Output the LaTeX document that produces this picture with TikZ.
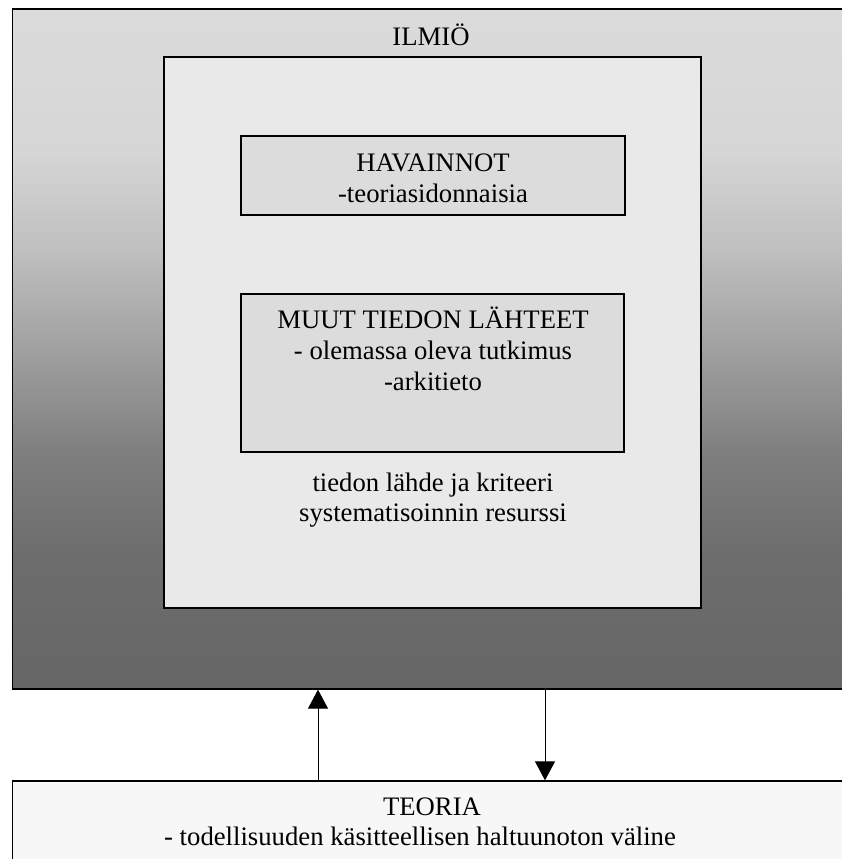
\documentclass[tikz,border=0pt]{standalone}
\usepackage{fontspec}
\setmainfont{Liberation Serif}
\usetikzlibrary{arrows.meta}

% vertical grey ramp for the phenomenon box (25bp = bottom edge, 75bp = top edge)
\definecolor{g0}{gray}{0.40}
\definecolor{g1}{gray}{0.43}
\definecolor{g2}{gray}{0.50}
\definecolor{g3}{gray}{0.63}
\definecolor{g4}{gray}{0.75}
\definecolor{g5}{gray}{0.84}
\definecolor{g6}{gray}{0.86}
\pgfdeclareverticalshading{ilmioramp}{100bp}{%
  color(0bp)=(g0); color(25bp)=(g0); color(35.3bp)=(g1); color(42.6bp)=(g2);
  color(50bp)=(g3); color(57.3bp)=(g4); color(64.6bp)=(g5); color(75bp)=(g6);
  color(100bp)=(g6)}

\definecolor{innerfill}{HTML}{E9E9E9}
\definecolor{boxfill}{HTML}{DCDCDC}
\definecolor{theoryfill}{HTML}{F7F7F7}

\tikzset{
  frame/.style={draw=black, line width=1.3pt, rectangle, inner sep=0pt},
  txt/.style={anchor=base, inner sep=0pt, font=\fontsize{26.7}{31}\selectfont},
  arr/.style={line width=1pt, -{Triangle[width=20pt,length=19pt]}},
}

\begin{document}
\begin{tikzpicture}[x=1pt, y=-1pt]
  \useasboundingbox (0,0) rectangle (841,859);
  \fill[white] (0,0) rectangle (841,859);

  % outer phenomenon frame (runs past the right edge)
  \node[frame, shading=ilmioramp, minimum width=834pt, minimum height=680pt]
    (ilmio) at (429.5,349) {};
  \node[txt] (ilmiotxt) at (431,46) {ILMIÖ};

  % inner area
  \node[frame, fill=innerfill, minimum width=537pt, minimum height=551pt]
    (inner) at (432.5,332.5) {};

  % observations
  \node[frame, fill=boxfill, minimum width=384pt, minimum height=79pt]
    (havainnot) at (433,175.5) {};
  \node[txt] (havt1) at (433,171) {HAVAINNOT};
  \node[txt] (havt2) at (433,202) {-teoriasidonnaisia};

  % other sources of knowledge
  \node[frame, fill=boxfill, minimum width=383pt, minimum height=158pt]
    (muut) at (432.5,373) {};
  \node[txt] (muut1) at (433,328) {MUUT TIEDON LÄHTEET};
  \node[txt] (muut2) at (433,359) {- olemassa oleva tutkimus};
  \node[txt] (muut3) at (433,390) {-arkitieto};

  \node[txt] (res1) at (433,491) {tiedon lähde ja kriteeri};
  \node[txt] (res2) at (433,521) {systematisoinnin resurssi};

  % theory box (runs past the right and bottom edges)
  \node[frame, fill=theoryfill, minimum width=834pt, minimum height=100pt]
    (teoria) at (429.5,831) {};
  \node[txt] (teo1) at (432,815) {TEORIA};
  \node[txt] (teo2) at (420,845) {- todellisuuden käsitteellisen haltuunoton väline};

  % connectors between theory and phenomenon
  \coordinate (upx) at (318,0);
  \coordinate (downx) at (545,0);
  \draw[arr] (upx |- teoria.north) -- (upx |- ilmio.south);
  \draw[arr] (downx |- ilmio.south) -- (downx |- teoria.north);
\end{tikzpicture}
\end{document}
